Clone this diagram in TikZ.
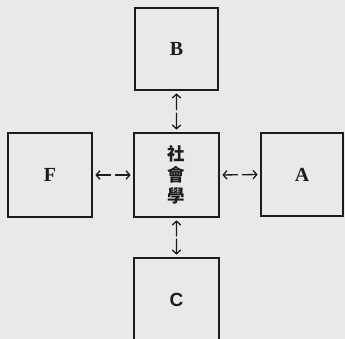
\documentclass[tikz,border=0pt]{standalone}
\usepackage{fontspec}
\newfontfamily\cjk{Noto Sans CJK TC}
\newfontfamily\lat{Liberation Serif}
\newfontfamily\latsans{Liberation Sans}
\usetikzlibrary{arrows.meta,calc}
\definecolor{paper}{RGB}{233,233,231}
\definecolor{ink}{RGB}{28,28,28}
\tikzset{
  box/.style={draw=ink, line width=1.7pt, rectangle, inner sep=0pt,
    minimum width=84pt, minimum height=83pt, text=ink,
    font=\fontsize{20}{22}\selectfont\lat\bfseries},
  arr/.style={draw=ink, line width=1.3pt, line cap=round,
    -{Straight Barb[length=3.8pt,width=8.5pt,line width=1.3pt]}, shorten >=2.5pt},
}
\begin{document}
\begin{tikzpicture}[x=1pt,y=-1pt]
\fill[paper] (0,0) rectangle (345,339);
\useasboundingbox (0,0) rectangle (345,339);
\begin{scope}
\clip (0,0) rectangle (345,339);
\node[box, minimum width=83pt, minimum height=82pt] (B) at (176.5,49) {B};
\node[box, minimum width=85pt, minimum height=84pt, align=center,
  font=\fontsize{17.5}{21}\selectfont\cjk\bfseries] (S) at (176.5,175) {社\\會\\學};
\node[box, minimum height=84pt] (F) at (50,175) {F};
\node[box, minimum width=82pt] (A) at (302,174.5) {A};
\node[box, minimum width=85pt, minimum height=84pt,
  font=\fontsize{19}{21}\selectfont\latsans\bfseries] (C) at (176.5,300) {C};
\end{scope}
% connectors: two half arrows meeting near the middle
\coordinate (fa) at ($(F.east)!0.44!(S.west)$);
\coordinate (fb) at ($(F.east)!0.56!(S.west)$);
\draw[arr] (fa) -- (F.east);
\draw[arr] (fb) -- (S.west);
\coordinate (aa) at ($(S.east)!0.44!(A.west)$);
\coordinate (ab) at ($(S.east)!0.56!(A.west)$);
\draw[arr] (aa) -- (S.east);
\draw[arr] (ab) -- (A.west);
\coordinate (ba) at ($(B.south)!0.46!(S.north)$);
\coordinate (bb) at ($(B.south)!0.54!(S.north)$);
\draw[arr] (ba) -- (B.south);
\draw[arr] (bb) -- (S.north);
\coordinate (ca) at ($(S.south)!0.46!(C.north)$);
\coordinate (cb) at ($(S.south)!0.54!(C.north)$);
\draw[arr] (ca) -- (S.south);
\draw[arr] (cb) -- (C.north);
\end{tikzpicture}
\end{document}
